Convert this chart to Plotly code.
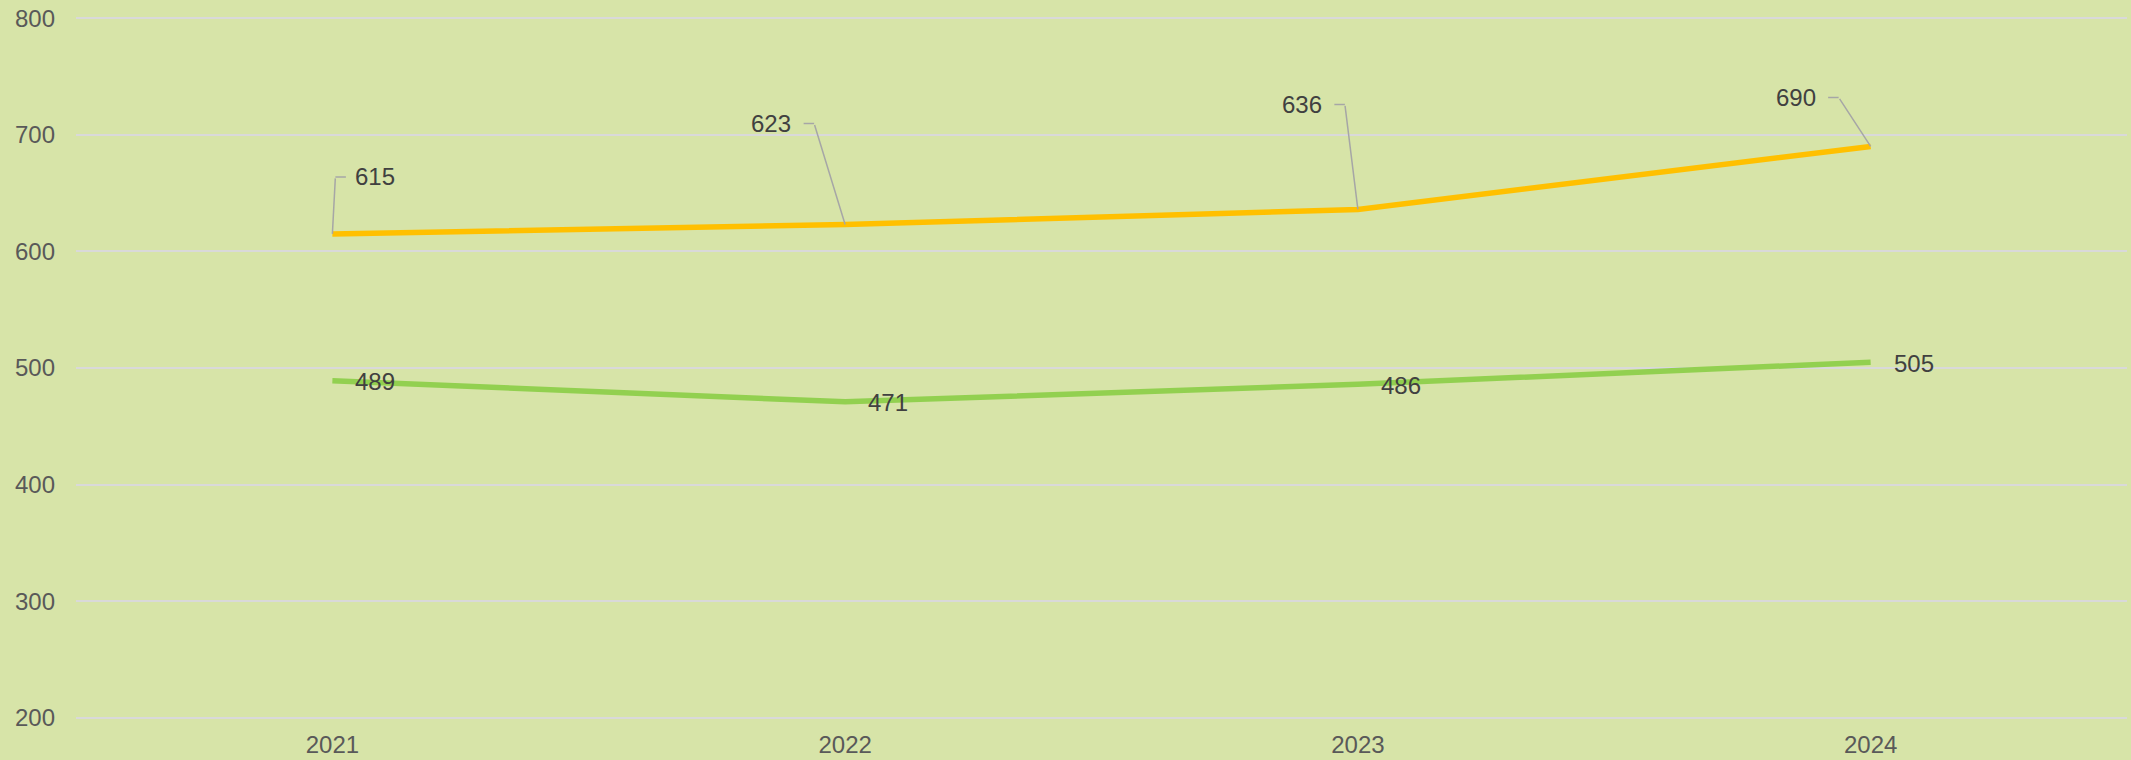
import plotly.graph_objects as go

years = ["2021", "2022", "2023", "2024"]
series_top = [615, 623, 636, 690]
series_bottom = [489, 471, 486, 505]
y_ticks = [200, 300, 400, 500, 600, 700, 800]

x_idx = list(range(len(years)))

# label placement for the top series (pixel offsets relative to each point)
# (elbow_dx, elbow_dy, horiz_len, text_dx, text_anchor)
top_label_style = [
    (3, -57, 12, 21, "left"),
    (-31, -101, -12, -52, "right"),
    (-13, -105, -12, -34, "right"),
    (-32, -49, -12, -53, "right"),
]

BG = "#D7E4A8"
ORANGE = "#FFC000"
GREEN = "#92D050"
LABEL = "#404040"
TICK = "#595959"
LEADER = "#A6A6A6"
FONT = "Liberation Sans, Arial, sans-serif"
FS = 24

fig = go.Figure()
fig.add_trace(go.Scatter(x=x_idx, y=series_top, mode="lines",
                         line=dict(color=ORANGE, width=5.5), hoverinfo="skip",
                         showlegend=False))
fig.add_trace(go.Scatter(x=x_idx, y=series_bottom, mode="lines",
                         line=dict(color=GREEN, width=5.5), hoverinfo="skip",
                         showlegend=False))

anns = []
for xi, v, (edx, edy, hl, tdx, anc) in zip(x_idx, series_top, top_label_style):
    # leader from point to elbow
    anns.append(dict(x=xi, y=v, xref="x", yref="y", text="", showarrow=True,
                     arrowhead=0, arrowwidth=1.5, arrowcolor=LEADER,
                     ax=edx, ay=edy, standoff=0, startstandoff=0))
    # short horizontal segment at elbow
    anns.append(dict(x=xi, y=v, xref="x", yref="y", text="", showarrow=True,
                     arrowhead=0, arrowwidth=1.5, arrowcolor=LEADER,
                     xshift=edx, yshift=-edy, ax=hl, ay=0,
                     standoff=0, startstandoff=0))
    anns.append(dict(x=xi, y=v, xref="x", yref="y", text=str(v), showarrow=False,
                     xanchor=anc, yanchor="middle", xshift=tdx, yshift=-edy,
                     font=dict(family=FONT, size=FS, color=LABEL)))

for xi, v in zip(x_idx, series_bottom):
    anns.append(dict(x=xi, y=v, xref="x", yref="y", text=str(v), showarrow=False,
                     xanchor="left", yanchor="middle", xshift=21, yshift=-1,
                     font=dict(family=FONT, size=FS, color=LABEL)))

fig.update_layout(
    width=2131, height=760,
    margin=dict(l=76, r=4, t=17, b=41, autoexpand=False),
    paper_bgcolor=BG, plot_bgcolor=BG,
    font=dict(family=FONT, size=FS, color=TICK),
    annotations=anns,
    showlegend=False,
    hovermode=False,
)
fig.update_xaxes(range=[-0.5, len(years) - 0.5], tickvals=x_idx, ticktext=years,
                 showgrid=False, zeroline=False, showline=False, ticks="",
                 tickfont=dict(family=FONT, size=FS, color=TICK),
                 ticklabelstandoff=9, automargin=False)
fig.update_yaxes(range=[199, 801], tickvals=y_ticks, showgrid=True,
                 gridcolor="#D9D9D9", gridwidth=2, zeroline=False,
                 showline=False, ticks="",
                 tickfont=dict(family=FONT, size=FS, color=TICK),
                 ticklabelstandoff=20, automargin=False)

fig.write_html("out.html", config={"displayModeBar": False},
               post_script="document.body.style.margin='0';document.body.style.overflow='hidden';")
